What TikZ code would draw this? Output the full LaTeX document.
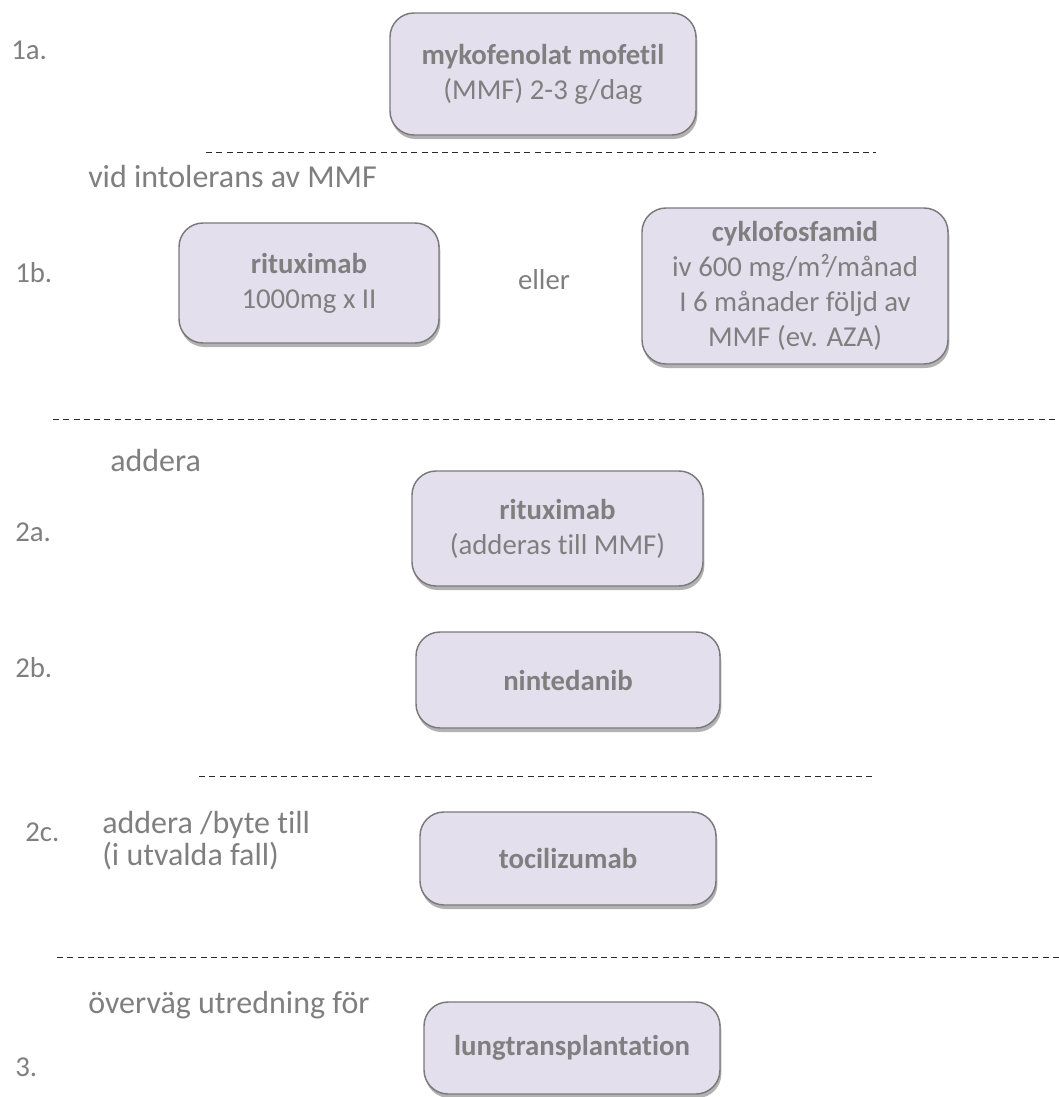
\documentclass[tikz,border=0pt]{standalone}
\usepackage{fontspec}
\setmainfont{Carlito}[Ligatures=NoCommon]
\usetikzlibrary{shadows}
\definecolor{txtgray}{HTML}{7F7F7F}
\definecolor{boxfill}{HTML}{E4DFEC}
\definecolor{boxline}{HTML}{7A7A7A}
\definecolor{sepline}{HTML}{2A2A2A}

\begin{document}
\begin{tikzpicture}[x=0.75pt,y=-0.75pt,
  box/.style 2 args={draw=boxline,line width=1.1pt,fill=boxfill,rounded corners=18pt,
    minimum width=#1*0.75pt,minimum height=#2*0.75pt,inner sep=0pt,align=center,
    text=txtgray,font=\fontsize{21.6}{26.3}\selectfont,
    drop shadow={shadow xshift=1pt,shadow yshift=-3pt,opacity=.3,fill=black}},
  lbl/.style={anchor=west,inner sep=0pt,align=left,text=txtgray,font=\fontsize{24}{24}\selectfont},
  num/.style={anchor=west,inner sep=0pt,text=txtgray,font=\fontsize{21.6}{26.3}\selectfont},
  sep/.style={draw=sepline,line width=0.75pt,dash pattern=on 4.5pt off 3.2pt}]
  \useasboundingbox (0,0) rectangle (1059,1097);

  % steg 1
  \node[num] (n1a) at (11,50) {1a.};
  \node[box={306}{122}] (mmf) at (543,74) {\textbf{mykofenolat mofetil}\\(MMF) 2-3 g/dag};
  \draw[sep] (206,152) -- (876,152);
  \node[lbl] (intol) at (88,177) {vid intolerans av MMF};
  \node[num] (n1b) at (15,273) {1b.};
  \node[box={260}{120}] (rit1) at (309,283) {\textbf{rituximab}\\1000mg x II};
  \node[text=txtgray,font=\fontsize{21.6}{26.3}\selectfont] (eller) at (544,280) {eller};
  \node[box={306}{156}] (cyk) at (795,286) {\textbf{cyklofosfamid}\\iv 600 mg/m²/månad\\I 6 månader följd av\\MMF (ev. AZA)};
  \draw[sep] (53,419) -- (1059,419);

  % steg 2
  \node[lbl] (add) at (110,460) {addera};
  \node[num] (n2a) at (15,532) {2a.};
  \node[box={291}{115}] (rit2) at (557.5,528.5) {\textbf{rituximab}\\(adderas till MMF)};
  \node[num] (n2b) at (15,668) {2b.};
  \node[box={304}{96}] (nin) at (568,680) {\textbf{nintedanib}};
  \draw[sep] (199,776) -- (872,776);
  \node[num] (n2c) at (25,832) {2c.};
  \node[lbl] (byte) at (102,841) {addera /byte till\\(i utvalda fall)};
  \node[box={296}{93}] (toc) at (568,858.5) {\textbf{tocilizumab}};
  \draw[sep] (57,957) -- (1059,957);

  % steg 3
  \node[lbl] (utred) at (88,1005) {överväg utredning för};
  \node[num] (n3) at (15,1067) {3.};
  \node[box={296}{92}] (lung) at (572,1048) {\textbf{lungtransplantation}};
\end{tikzpicture}
\end{document}
